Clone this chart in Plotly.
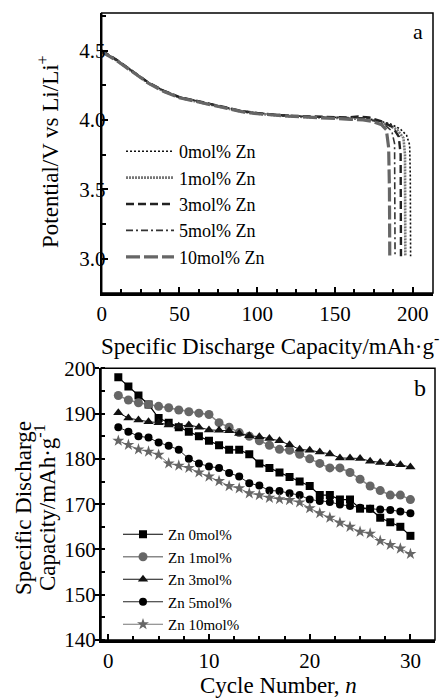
import plotly.graph_objects as go

# ---------------- Panel a: discharge curves ----------------
series_a = ["0mol% Zn", "1mol% Zn", "3mol% Zn", "5mol% Zn", "10mol% Zn"]

cap_0 = [0, 10, 20, 30, 40, 50, 60, 70, 80, 90, 100, 110, 120, 130, 140, 150, 160, 170, 178, 186, 192, 196, 198, 198.4, 198.6]
v_0 = [4.50, 4.43, 4.35, 4.27, 4.21, 4.165, 4.14, 4.115, 4.09, 4.065, 4.05, 4.04, 4.03, 4.025, 4.022, 4.02, 4.018, 4.012, 3.995, 3.97, 3.935, 3.89, 3.82, 3.6, 3.02]

cap_1 = [0, 10, 20, 30, 40, 50, 60, 70, 80, 90, 100, 110, 120, 130, 140, 150, 160, 168, 176, 184, 190, 194, 195, 195.2]
v_1 = [4.49, 4.425, 4.345, 4.265, 4.205, 4.16, 4.135, 4.11, 4.085, 4.06, 4.045, 4.035, 4.028, 4.022, 4.018, 4.015, 4.012, 4.008, 3.995, 3.965, 3.93, 3.87, 3.75, 3.02]

cap_3 = [0, 10, 20, 30, 40, 50, 60, 70, 80, 90, 100, 110, 120, 130, 140, 150, 158, 165, 172, 180, 187, 191, 192.2, 192.4]
v_3 = [4.50, 4.43, 4.35, 4.27, 4.21, 4.165, 4.14, 4.115, 4.09, 4.065, 4.05, 4.04, 4.03, 4.028, 4.025, 4.022, 4.018, 4.025, 4.018, 3.99, 3.95, 3.88, 3.75, 3.02]

cap_5 = [0, 10, 20, 30, 40, 50, 60, 70, 80, 90, 100, 110, 120, 130, 140, 150, 160, 168, 175, 182, 186.5, 188.3, 188.6]
v_5 = [4.50, 4.43, 4.35, 4.27, 4.21, 4.165, 4.14, 4.115, 4.09, 4.065, 4.05, 4.04, 4.03, 4.025, 4.022, 4.02, 4.018, 4.015, 3.995, 3.965, 3.92, 3.83, 3.02]

cap_10 = [0, 10, 20, 30, 40, 50, 60, 70, 80, 90, 100, 110, 120, 130, 140, 150, 160, 168, 174, 180, 183, 184.5, 185, 185.2]
v_10 = [4.49, 4.425, 4.345, 4.265, 4.205, 4.16, 4.135, 4.11, 4.085, 4.06, 4.045, 4.035, 4.028, 4.022, 4.018, 4.012, 4.005, 4.0, 3.99, 3.965, 3.93, 3.8, 3.5, 3.02]

# ---------------- Panel b: cycling ----------------
cycles = list(range(1, 31))
series_b = ["Zn 0mol%", "Zn 1mol%", "Zn 3mol%", "Zn 5mol%", "Zn 10mol%"]
zn0 = [198, 196, 194, 192, 189, 188, 187, 186, 185, 184, 183, 182, 182, 181, 179, 178, 177, 176, 175, 174,
       172, 172, 171, 171, 169, 169, 167, 166, 165, 163]
zn1 = [194, 193, 192.4, 192, 191.6, 191.3, 190.8, 190.4, 190.1, 189.8, 188, 187, 185.8, 185, 184, 183, 182.1, 181.9, 181, 180,
       179, 178, 178, 177, 175.5, 174, 173, 172, 172, 171]
zn3 = [190.2, 189, 188.6, 188.2, 188, 187.5, 187.2, 187.5, 187, 186.4, 186.3, 186.2, 185.6, 185.1, 184.9, 184.5, 184, 183.1, 182.1, 181.9,
       181.5, 181.1, 180.2, 180.2, 180.1, 179.5, 179.2, 178.9, 178.7, 178.2]
zn5 = [187, 186, 185, 184.7, 183.6, 182.9, 182, 180, 179, 178.3, 178, 176.9, 176.1, 174.6, 174.1, 173, 172.9, 172.4, 172, 171,
       170.7, 170.5, 169.9, 169.6, 169.2, 169, 168.8, 168.7, 168.4, 168]
zn10 = [184, 183.1, 182.1, 181.6, 180.9, 179, 178.5, 178, 177, 176.1, 175.1, 174, 173.5, 172.4, 172, 171.4, 171.1, 170.9, 170.4, 169.1,
        168, 167, 165.9, 165, 163.9, 163.5, 161.9, 161, 160.2, 159]

FONT = "Liberation Serif, Times New Roman, serif"

# page body has an 8px margin; figure is sized to fill the rest of the window
OFF = 8
W, H = 448 - OFF, 700 - OFF


def fx(px):
    return (px - OFF) / W


def fy(py):
    return 1 - (py - OFF) / H


fig = go.Figure()

styles_a = [
    (cap_0, v_0, dict(color="#111111", width=1.6, dash="2px,2px")),
    (cap_1, v_1, dict(color="#777777", width=2.6, dash="2px,1px")),
    (cap_3, v_3, dict(color="#222222", width=2.4, dash="8px,4px")),
    (cap_5, v_5, dict(color="#333333", width=1.6, dash="7px,3px,2px,3px")),
    (cap_10, v_10, dict(color="#666666", width=3.2, dash="14px,4px")),
]
for name, (cx, vy, ln) in zip(series_a, styles_a):
    fig.add_trace(go.Scatter(x=cx, y=vy, mode="lines", name=name, line=ln,
                             xaxis="x", yaxis="y", legend="legend"))

styles_b = [
    (zn0, dict(color="#000000", width=1.2), dict(symbol="square", size=8, color="#000000")),
    (zn1, dict(color="#888888", width=1.6), dict(symbol="circle", size=9, color="#666666")),
    (zn3, dict(color="#111111", width=1.0), dict(symbol="triangle-up", size=9, color="#111111")),
    (zn5, dict(color="#222222", width=1.0), dict(symbol="circle", size=8, color="#000000")),
    (zn10, dict(color="#777777", width=1.0), dict(symbol="star", size=9, color="#666666")),
]
for name, (vals, ln, mk) in zip(series_b, styles_b):
    fig.add_trace(go.Scatter(x=cycles, y=vals, mode="lines+markers", name=name, line=ln, marker=mk,
                             xaxis="x2", yaxis="y2", legend="legend2"))

ax_common = dict(showgrid=False, zeroline=False, showline=True, linecolor="black", automargin=False,
                 tickfont=dict(family=FONT, size=21, color="black"), tickcolor="black")

fig.update_layout(
    width=W, height=H,
    margin=dict(l=0, r=0, t=0, b=0, pad=0, autoexpand=False),
    paper_bgcolor="white", plot_bgcolor="white",
    font=dict(family=FONT, color="black"),
    xaxis=dict(domain=[fx(101.7), fx(433)], range=[0, 213], anchor="y",
               tickvals=[0, 50, 100, 150, 200], ticks="inside", ticklen=6, tickwidth=1.5,
               minor=dict(dtick=12.5, tick0=0, ticks="inside", ticklen=4, tickcolor="black"),
               linewidth=3, **ax_common),
    yaxis=dict(domain=[fy(293), fy(13)], range=[2.755, 4.77], anchor="x",
               tickvals=[3.0, 3.5, 4.0, 4.5], ticktext=["3.0", "3.5", "4.0", "4.5"],
               ticks="inside", ticklen=6, tickwidth=1.5, ticklabelstandoff=-10,
               minor=dict(dtick=0.25, tick0=0, ticks="inside", ticklen=4, tickcolor="black"),
               linewidth=2, **ax_common),
    xaxis2=dict(domain=[fx(101), fx(435)], range=[-0.72, 32.44], anchor="y2",
                tickvals=[0, 10, 20, 30], ticks="inside", ticklen=6, tickwidth=1.5,
                minor=dict(dtick=2.5, tick0=0, ticks="inside", ticklen=4, tickcolor="black"),
                linewidth=3, **ax_common),
    yaxis2=dict(domain=[fy(640), fy(368.3)], range=[140, 200], anchor="x2",
                tickvals=[140, 150, 160, 170, 180, 190, 200], ticks="outside", ticklen=4, tickwidth=1.5,
                ticklabelstandoff=-5,
                minor=dict(dtick=5, tick0=0, ticks="inside", ticklen=4, tickcolor="black"),
                linewidth=2, **ax_common),
    legend=dict(x=fx(121), y=fy(133), xanchor="left", yanchor="top",
                bgcolor="rgba(0,0,0,0)", borderwidth=0, itemwidth=48,
                font=dict(family=FONT, size=18, color="black"), tracegroupgap=0),
    legend2=dict(x=fx(118), y=fy(518), xanchor="left", yanchor="top",
                 bgcolor="rgba(0,0,0,0)", borderwidth=0, itemwidth=40,
                 font=dict(family=FONT, size=15, color="black"), tracegroupgap=0),
    showlegend=True,
)

# frames (top/right borders)
for xr, yr in [("x", "y"), ("x2", "y2")]:
    fig.add_shape(type="rect", xref=f"{xr} domain", yref=f"{yr} domain", x0=0, x1=1, y0=0, y1=1,
                  line=dict(color="black", width=1.5), layer="above")

ann_font = dict(family=FONT, size=23, color="black")
fig.add_annotation(text="Specific Discharge Capacity/mAh·g<sup>-1</sup>", xref="paper", yref="paper",
                   x=fx(274), y=fy(345), xanchor="center", yanchor="middle", showarrow=False, font=ann_font)
fig.add_annotation(text="Potential/V vs Li/Li<sup>+</sup>", xref="paper", yref="paper", textangle=-90,
                   x=fx(48), y=fy(152), xanchor="center", yanchor="middle", showarrow=False, font=ann_font)
fig.add_annotation(text="Specific Discharge", xref="paper", yref="paper", textangle=-90,
                   x=fx(23), y=fy(508), xanchor="center", yanchor="middle", showarrow=False, font=ann_font)
fig.add_annotation(text="Capacity/mAh·g<sup>-1</sup>", xref="paper", yref="paper", textangle=-90,
                   x=fx(45), y=fy(508), xanchor="center", yanchor="middle", showarrow=False, font=ann_font)
fig.add_annotation(text="Cycle Number, <i>n</i>", xref="paper", yref="paper",
                   x=fx(278), y=fy(685), xanchor="center", yanchor="middle", showarrow=False, font=ann_font)
fig.add_annotation(text="a", xref="paper", yref="paper", x=fx(418), y=fy(32),
                   xanchor="center", yanchor="middle", showarrow=False, font=dict(family=FONT, size=22, color="black"))
fig.add_annotation(text="b", xref="paper", yref="paper", x=fx(420), y=fy(388),
                   xanchor="center", yanchor="middle", showarrow=False, font=dict(family=FONT, size=24, color="black"))

fig.write_html("out.html")
